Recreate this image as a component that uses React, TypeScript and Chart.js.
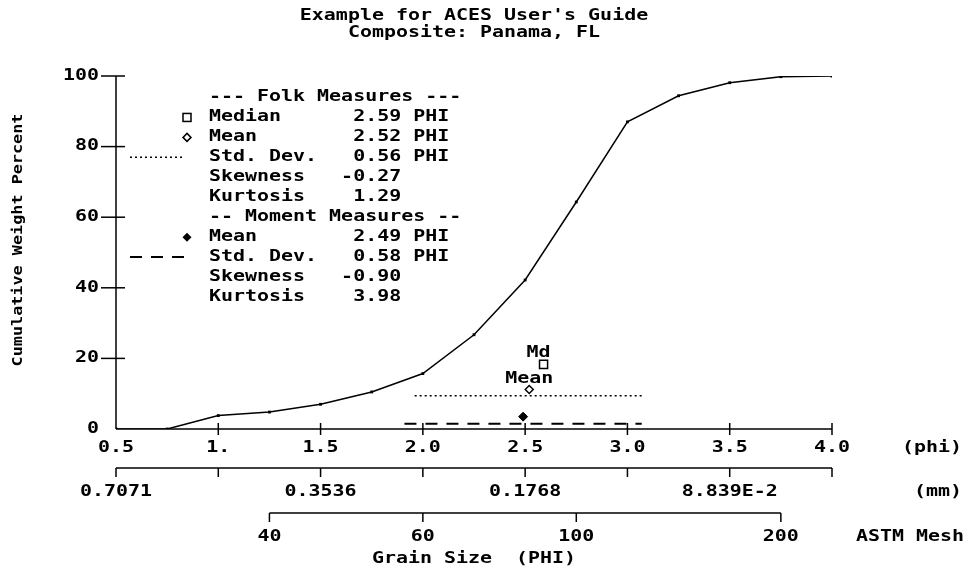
import React, { useEffect, useRef } from "react";
import { Chart, registerables } from "chart.js";

Chart.register(...registerables);

// ---- data ----
const phiValues = [0.5, 0.75, 1.0, 1.25, 1.5, 1.75, 2.0, 2.25, 2.5, 2.75, 3.0, 3.25, 3.5, 3.75, 4.0];
const cumWeightPct = [0, 0, 3.8, 4.8, 7.0, 10.5, 15.7, 26.7, 42.2, 64.3, 87.0, 94.4, 98.1, 99.8, 100];

const yTickValues = [0, 20, 40, 60, 80, 100];
const phiTickValues = [0.5, 1.0, 1.5, 2.0, 2.5, 3.0, 3.5, 4.0];
const phiTickLabels = ["0.5", "1.", "1.5", "2.0", "2.5", "3.0", "3.5", "4.0"];
const mmTickPhi = [0.5, 1.5, 2.5, 3.5];
const mmTickLabels = ["0.7071", "0.3536", "0.1768", "8.839E-2"];
const astmTickPhi = [1.25, 2.0, 2.75, 3.75];
const astmTickLabels = ["40", "60", "100", "200"];

// Folk measures
const folkMedian = 2.59;
const folkMean = 2.52;
const folkStd = 0.56;
const folkSkew = "-0.27";
const folkKurt = "1.29";
// Moment measures
const momentMean = 2.49;
const momentStd = 0.58;
const momentSkew = "-0.90";
const momentKurt = "3.98";

// heights (cumulative %) at which the statistic markers are drawn
const medianMarkY = 18.3;
const folkMeanMarkY = 11.2;
const folkStdLineY = 9.4;
const momentMeanMarkY = 3.5;
const momentStdLineY = 1.5;

const legendLines = [
  "--- Folk Measures ---",
  "Median      " + folkMedian.toFixed(2) + " PHI",
  "Mean        " + folkMean.toFixed(2) + " PHI",
  "Std. Dev.   " + folkStd.toFixed(2) + " PHI",
  "Skewness   " + folkSkew,
  "Kurtosis    " + folkKurt,
  "-- Moment Measures --",
  "Mean        " + momentMean.toFixed(2) + " PHI",
  "Std. Dev.   " + momentStd.toFixed(2) + " PHI",
  "Skewness   " + momentSkew,
  "Kurtosis    " + momentKurt,
];

const FONT_FAMILY = '"DejaVu Sans Mono", "Liberation Mono", monospace';
const FONT_SIZE = 15;
const SX = 1.33;

function drawText(ctx: CanvasRenderingContext2D, s: string, x: number, y: number, align: "left" | "center" | "right" = "left", size = FONT_SIZE, sx = SX) {
  ctx.save();
  ctx.font = `bold ${size}px ${FONT_FAMILY}`;
  ctx.fillStyle = "#000";
  ctx.textBaseline = "middle";
  ctx.textAlign = "left";
  const w = ctx.measureText(s).width * sx;
  const x0 = align === "center" ? x - w / 2 : align === "right" ? x - w : x;
  ctx.translate(x0, y);
  ctx.scale(sx, 1);
  ctx.fillText(s, 0, 0);
  ctx.restore();
}

const axesPlugin = {
  id: "acesAxes",
  afterDraw(chart: any) {
    const ctx: CanvasRenderingContext2D = chart.ctx;
    const xs = chart.scales.x;
    const ys = chart.scales.y;
    const X = (v: number) => xs.getPixelForValue(v);
    const Y = (v: number) => ys.getPixelForValue(v);
    ctx.save();
    ctx.strokeStyle = "#000";
    ctx.lineWidth = 1.5;
    ctx.setLineDash([]);
    const line = (x1: number, y1: number, x2: number, y2: number) => {
      ctx.beginPath();
      ctx.moveTo(x1, y1);
      ctx.lineTo(x2, y2);
      ctx.stroke();
    };
    const x0 = X(phiTickValues[0]);
    const x1 = X(phiTickValues[phiTickValues.length - 1]);
    const y0 = Y(0);

    // y axis
    line(x0, Y(0), x0, Y(100));
    yTickValues.forEach((v) => {
      if (v !== 0) line(x0 - 15, Y(v), x0 + 9, Y(v));
      drawText(ctx, String(v), x0 - 17, Y(v), "right");
    });

    // phi axis
    line(x0, y0, x1, y0);
    phiTickValues.forEach((v, i) => {
      if (i > 0) line(X(v), y0 - 6, X(v), y0 + 6);
      drawText(ctx, phiTickLabels[i], X(v), y0 + 19, "center");
    });
    drawText(ctx, "(phi)", 932, y0 + 19, "center");

    // mm axis
    const yMm = y0 + 39;
    line(x0, yMm, x1, yMm);
    phiTickValues.forEach((v) => line(X(v), yMm, X(v), yMm + 9));
    mmTickPhi.forEach((v, i) => drawText(ctx, mmTickLabels[i], X(v), yMm + 24, "center"));
    drawText(ctx, "(mm)", 938, yMm + 24, "center");

    // ASTM mesh axis
    const yA = y0 + 84;
    line(X(astmTickPhi[0]), yA, X(astmTickPhi[astmTickPhi.length - 1]), yA);
    astmTickPhi.forEach((v, i) => {
      line(X(v), yA, X(v), yA + 9);
      drawText(ctx, astmTickLabels[i], X(v), yA + 24, "center");
    });
    drawText(ctx, "ASTM Mesh", 910, yA + 24, "center");

    // axis titles
    drawText(ctx, "Grain Size  (PHI)", (x0 + x1) / 2, y0 + 130, "center");
    ctx.save();
    ctx.translate(18, 240);
    ctx.rotate(-Math.PI / 2);
    drawText(ctx, "Cumulative Weight Percent", 0, 0, "center", 14, 1.2);
    ctx.restore();

    // title
    drawText(ctx, "Example for ACES User's Guide", (x0 + x1) / 2, 16, "center");
    drawText(ctx, "Composite: Panama, FL", (x0 + x1) / 2, 33, "center");

    // marker labels
    drawText(ctx, "Md", X(folkMedian) - 5, Y(medianMarkY) - 11, "center");
    drawText(ctx, "Mean", X(folkMean), Y(folkMeanMarkY) - 10, "center");

    // legend text
    const lx = 209;
    const ly = 97.5;
    const step = 19.95;
    legendLines.forEach((s, i) => drawText(ctx, s, lx, ly + i * step, "left"));

    // legend symbols
    const sx = 187;
    ctx.lineWidth = 1.5;
    // median square
    ctx.strokeRect(sx - 4, ly + step - 4, 8, 8);
    // folk mean open diamond
    ctx.beginPath();
    const dy = ly + 2 * step;
    ctx.moveTo(sx, dy - 4);
    ctx.lineTo(sx + 4, dy);
    ctx.lineTo(sx, dy + 4);
    ctx.lineTo(sx - 4, dy);
    ctx.closePath();
    ctx.stroke();
    // folk std dotted line
    ctx.setLineDash([2, 3]);
    line(130, ly + 3 * step, 185, ly + 3 * step);
    ctx.setLineDash([]);
    // moment mean filled diamond
    const fy = ly + 7 * step;
    ctx.beginPath();
    ctx.moveTo(sx, fy - 4.5);
    ctx.lineTo(sx + 4.5, fy);
    ctx.lineTo(sx, fy + 4.5);
    ctx.lineTo(sx - 4.5, fy);
    ctx.closePath();
    ctx.fillStyle = "#000";
    ctx.fill();
    // moment std dashed line
    ctx.lineWidth = 2;
    ctx.setLineDash([12, 9]);
    line(130, ly + 8 * step, 185, ly + 8 * step);
    ctx.restore();
  },
};

export default function App() {
  const canvasRef = useRef<HTMLCanvasElement | null>(null);

  useEffect(() => {
    if (!canvasRef.current) return;
    const curve = phiValues.map((p, i) => ({ x: p, y: cumWeightPct[i] }));
    const chart = new Chart(canvasRef.current, {
      type: "line",
      data: {
        datasets: [
          {
            label: "Cumulative",
            data: curve,
            borderColor: "#000",
            backgroundColor: "#000",
            borderWidth: 1.5,
            pointStyle: "rect",
            pointRadius: 2,
            pointBorderWidth: 0,
            tension: 0,
          },
          {
            label: "Folk Std. Dev.",
            data: [
              { x: folkMean - folkStd, y: folkStdLineY },
              { x: folkMean + folkStd, y: folkStdLineY },
            ],
            borderColor: "#000",
            borderWidth: 1.5,
            borderDash: [2, 3],
            pointRadius: 0,
          },
          {
            label: "Moment Std. Dev.",
            data: [
              { x: momentMean - momentStd, y: momentStdLineY },
              { x: momentMean + momentStd, y: momentStdLineY },
            ],
            borderColor: "#000",
            borderWidth: 2,
            borderDash: [12, 9],
            pointRadius: 0,
          },
          {
            label: "Median",
            data: [{ x: folkMedian, y: medianMarkY }],
            showLine: false,
            pointStyle: "rect",
            pointRadius: 5.7,
            borderColor: "#000",
            backgroundColor: "#fff",
            borderWidth: 1.5,
          },
          {
            label: "Folk Mean",
            data: [{ x: folkMean, y: folkMeanMarkY }],
            showLine: false,
            pointStyle: "rectRot",
            pointRadius: 4,
            borderColor: "#000",
            backgroundColor: "#fff",
            borderWidth: 1.5,
          },
          {
            label: "Moment Mean",
            data: [{ x: momentMean, y: momentMeanMarkY }],
            showLine: false,
            pointStyle: "rectRot",
            pointRadius: 4.5,
            borderColor: "#000",
            backgroundColor: "#000",
            borderWidth: 1,
          },
        ],
      },
      options: {
        animation: false,
        responsive: false,
        devicePixelRatio: 1,
        layout: { padding: { left: 116, right: 134, top: 76, bottom: 138 } },
        plugins: { legend: { display: false }, tooltip: { enabled: false }, title: { display: false } },
        scales: {
          x: { type: "linear", min: 0.5, max: 4.0, display: false },
          y: { type: "linear", min: 0, max: 100, display: false },
        },
      },
      plugins: [axesPlugin],
    });
    return () => chart.destroy();
  }, []);

  return (
    <div style={{ position: "fixed", left: 0, top: 0, width: 966, height: 567, background: "#fff" }}>
      <canvas ref={canvasRef} width={966} height={567} style={{ width: 966, height: 567, display: "block" }} />
    </div>
  );
}
